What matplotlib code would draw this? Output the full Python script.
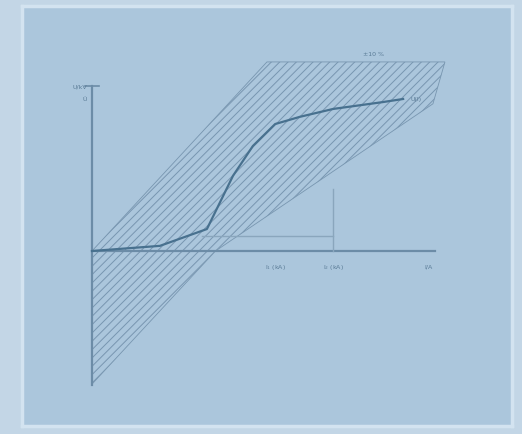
import matplotlib.pyplot as plt
from matplotlib.patches import Polygon

plt.rcParams['hatch.linewidth'] = 0.7

# characteristic curve (chart units, origin at the axis crossing)
curve_x = [0, 1.98, 3.35, 4.11, 4.69, 5.34, 6.06, 7.03, 8.48, 9.07]
curve_y = [0, 0.15, 0.64, 2.19, 3.06, 3.70, 3.91, 4.14, 4.34, 4.43]

# tolerance band outline
band_x = [0, 5.10, 10.29, 9.94, 3.60, 0]
band_y = [0, 5.51, 5.51, 4.29, 0, -3.88]

# reference lines
ref_x2 = 7.03
ref_h = 0.44

tick_pos = [5.34, 7.03, 9.8]
tick_labels = ['I$_1$ (kA)', 'I$_2$ (kA)', 'I/A']

line_c = '#48718f'
hatch_c = '#7896b0'
axis_c = '#6c8ca7'
text_c = '#5a7b96'

fig = plt.figure(figsize=(5.22, 4.35), dpi=100)
fig.patch.set_facecolor('#c3d6e6')

ax = fig.add_axes([22 / 522, 8 / 435, 490 / 522, 420 / 435])
ax.set_xlim(-2.041, 12.245)
ax.set_ylim(-5.10, 7.14)
ax.set_facecolor('#abc6dc')
ax.set_xticks([])
ax.set_yticks([])
for s in ax.spines.values():
    s.set_color('#d3e3f0')
    s.set_linewidth(2.5)

band = Polygon(list(zip(band_x, band_y)), closed=True, facecolor='none',
               edgecolor=hatch_c, hatch='////', linewidth=0.6)
ax.add_patch(band)

# axes of the diagram
ax.plot([0, 0], [-3.9, 4.8], color=axis_c, lw=1.6)
ax.plot([0, 10.0], [0, 0], color=axis_c, lw=1.6)
ax.plot([-0.2, 0.2], [4.8, 4.8], color=axis_c, lw=1.2)

ax.plot([ref_x2, ref_x2], [0, 1.8], color='#8aa6bd', lw=1.0)
ax.plot([3.2, ref_x2], [ref_h, ref_h], color='#8aa6bd', lw=1.0)

ax.plot(curve_x, curve_y, color=line_c, lw=1.6)

for xp, lab in zip(tick_pos, tick_labels):
    ax.text(xp, -0.45, lab, fontsize=4.5, color=text_c, ha='center', va='center')

ax.text(-0.15, 4.8, 'U/kV', fontsize=4.5, color=text_c, ha='right', va='center')
ax.text(-0.15, 4.45, 'Û', fontsize=4.5, color=text_c, ha='right', va='center')
ax.text(8.2, 5.75, '±10 %', fontsize=4.5, color=text_c, ha='center', va='center')
ax.text(9.3, 4.43, 'U(I)', fontsize=4.5, color=text_c, ha='left', va='center')

fig.savefig('out.png', dpi=100, facecolor=fig.get_facecolor())
